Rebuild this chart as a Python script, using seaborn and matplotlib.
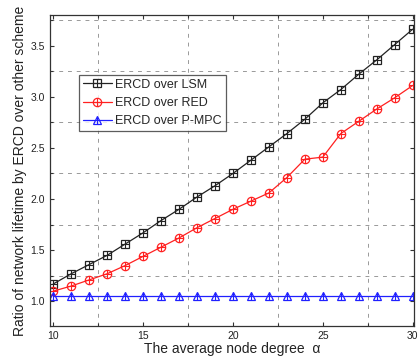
import numpy as np
import pandas as pd
import matplotlib
matplotlib.use("Agg")
import matplotlib.pyplot as plt
import seaborn as sns
from matplotlib.ticker import MultipleLocator
from matplotlib.lines import Line2D

# ---- data ----
degree = list(range(10, 31))
lsm = [1.17, 1.27, 1.36, 1.45, 1.56, 1.67, 1.79, 1.90, 2.02, 2.13, 2.25,
       2.38, 2.51, 2.64, 2.78, 2.94, 3.07, 3.22, 3.36, 3.51, 3.66]
red = [1.10, 1.15, 1.21, 1.27, 1.35, 1.44, 1.53, 1.62, 1.72, 1.81, 1.90,
       1.98, 2.06, 2.21, 2.39, 2.41, 2.64, 2.76, 2.88, 2.99, 3.11]
pmpc = [1.05] * 21
series_names = ["ERCD over LSM", "ERCD over RED", "ERCD over P-MPC"]
xticks = [10, 15, 20, 25, 30]
yticks = [1.0, 1.5, 2.0, 2.5, 3.0, 3.5]
xlabel = "The average node degree  α"
ylabel = "Ratio of network lifetime by ERCD over other scheme"

df = pd.DataFrame({
    "degree": degree * 3,
    "ratio": lsm + red + pmpc,
    "series": [series_names[0]] * 21 + [series_names[1]] * 21 + [series_names[2]] * 21,
})

sns.set_theme(style="white")
plt.rcParams["font.family"] = ["Liberation Sans", "DejaVu Sans"]

fig = plt.figure(figsize=(4.2, 3.63), dpi=100)
ax = fig.add_axes([0.118, 0.102, 0.868, 0.857])

colors = {series_names[0]: "#222222", series_names[1]: "#ff2020", series_names[2]: "#2020ff"}
markers = {series_names[0]: "s", series_names[1]: "o", series_names[2]: "^"}
inner = {series_names[0]: "+", series_names[1]: "+", series_names[2]: "|"}

sns.lineplot(data=df, x="degree", y="ratio", hue="series",
             palette=colors, ax=ax, linewidth=0.9, legend=False)
for name in series_names:
    sub = df[df["series"] == name]
    ax.plot(sub["degree"], sub["ratio"], linestyle="none", marker=markers[name],
            markerfacecolor="none", markeredgecolor=colors[name],
            markersize=6, markeredgewidth=0.9)
    ax.plot(sub["degree"], sub["ratio"], linestyle="none", marker=inner[name],
            color=colors[name], markersize=6, markeredgewidth=0.8)

handles = []
for n in series_names:
    h1 = Line2D([], [], color=colors[n], marker=markers[n], markerfacecolor="none",
                markersize=6, linewidth=0.9, markeredgewidth=0.9)
    h2 = Line2D([], [], color=colors[n], marker=inner[n], linestyle="none",
                markersize=6, markeredgewidth=0.8)
    handles.append((h1, h2))
leg = ax.legend(handles, series_names, loc="upper left", bbox_to_anchor=(0.081, 0.807),
                frameon=True, fancybox=False, edgecolor="#333333", fontsize=9,
                handlelength=2.3, handletextpad=0.3, borderpad=0.3, labelspacing=0.5,
                borderaxespad=0)
leg.get_frame().set_linewidth(0.9)

ax.set_xlim(9.8, 30.08)
ax.set_ylim(0.76, 3.80)
ax.set_xticks(xticks)
ax.set_xticklabels([str(t) for t in xticks])
ax.set_yticks(yticks)
ax.set_yticklabels([f"{t:.1f}" for t in yticks])
ax.xaxis.set_minor_locator(MultipleLocator(2.5))
ax.yaxis.set_minor_locator(MultipleLocator(0.25))

ax.tick_params(which="both", direction="in", top=True, right=True, bottom=True, left=True,
               length=3, width=0.8, colors="#333333", labelsize=7.5, labelcolor="#222222")
ax.tick_params(which="minor", length=2)
ax.grid(which="minor", linestyle=(0, (4, 5)), color="#999999", linewidth=0.7)
ax.grid(which="major", visible=False)
for s in ax.spines.values():
    s.set_color("#333333")
    s.set_linewidth(0.9)

ax.set_xlabel(xlabel, fontsize=10, color="#222222", labelpad=1)
ax.set_ylabel(ylabel, fontsize=10, color="#222222", labelpad=2)

fig.savefig("out.png", dpi=100)
